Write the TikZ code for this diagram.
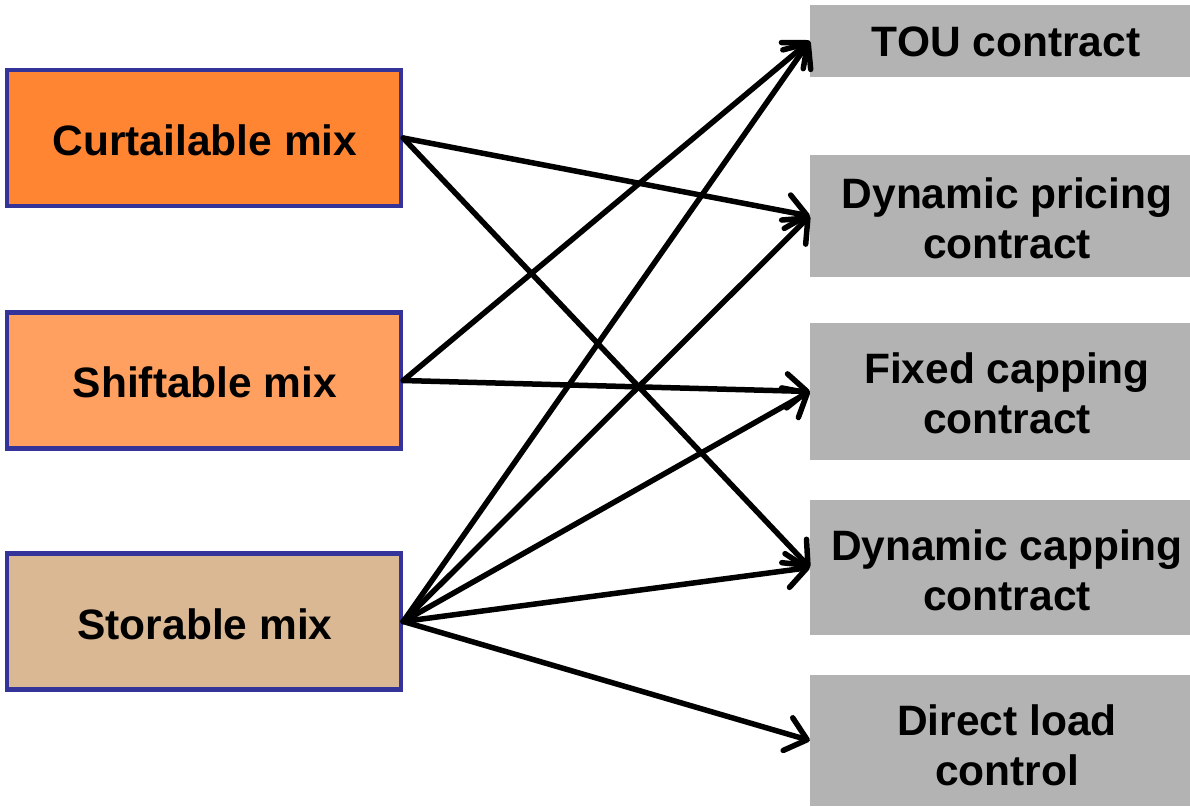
\documentclass[tikz,border=0pt]{standalone}
\usepackage{fontspec}
\setmainfont{Liberation Sans}
\usetikzlibrary{arrows.meta}
\definecolor{curt}{RGB}{255,133,51}
\definecolor{shift}{RGB}{255,160,96}
\definecolor{stor}{RGB}{219,184,148}
\definecolor{bord}{RGB}{51,51,153}
\definecolor{grayb}{RGB}{179,179,179}
\tikzset{
  mixbox/.style={draw=bord, line width=4.5pt, minimum width=394pt, minimum height=136pt, inner sep=0pt},
  contractbox/.style={fill=grayb, minimum width=380pt, inner sep=0pt},
  ctext/.style={font=\fontsize{42.5}{50}\selectfont\bfseries, align=center, inner sep=0pt},
  link/.style={line width=5.5pt, line cap=round, line join=round,
    -{Straight Barb[length=20pt,width=34pt,line cap=round,line join=round]}}
}
\begin{document}
\begin{tikzpicture}[x=1pt,y=-1pt]
\useasboundingbox (0,0) rectangle (1190,806);
\node[mixbox, fill=curt] (curt) at (204,138) {};
\node[mixbox, fill=shift] (shift) at (204,380.5) {};
\node[mixbox, fill=stor] (stor) at (204,621.5) {};
\node[ctext] (curttext) at (205,140) {Curtailable mix};
\node[ctext] (shifttext) at (205,382) {Shiftable mix};
\node[ctext] (stortext) at (205,624) {Storable mix};
\node[contractbox, minimum height=72pt] (tou) at (1000,41) {};
\node[contractbox, minimum height=122pt] (dyp) at (1000,216) {};
\node[contractbox, minimum height=137pt] (fix) at (1000,391.5) {};
\node[contractbox, minimum height=135pt] (dyc) at (1000,567.5) {};
\node[contractbox, minimum height=131pt] (dlc) at (1000,740.5) {};
\node[ctext] (toutext) at (1006,42) {TOU contract};
\node[ctext] (dyptext) at (1007,218) {Dynamic pricing\\contract};
\node[ctext] (fixtext) at (1007,393) {Fixed capping\\contract};
\node[ctext] (dyctext) at (1007,570) {Dynamic capping\\contract};
\node[ctext] (dlctext) at (1007,745) {Direct load\\control};
\draw[link] (curt.east) -- (dyp.west);
\draw[link] (curt.east) -- (dyc.west);
\draw[link] (shift.east) -- (tou.west);
\draw[link] (shift.east) -- (fix.west);
\draw[link] (stor.east) -- (tou.west);
\draw[link] (stor.east) -- (dyp.west);
\draw[link] (stor.east) -- (fix.west);
\draw[link] (stor.east) -- (dyc.west);
\draw[link] (stor.east) -- (dlc.west);
\end{tikzpicture}
\end{document}
